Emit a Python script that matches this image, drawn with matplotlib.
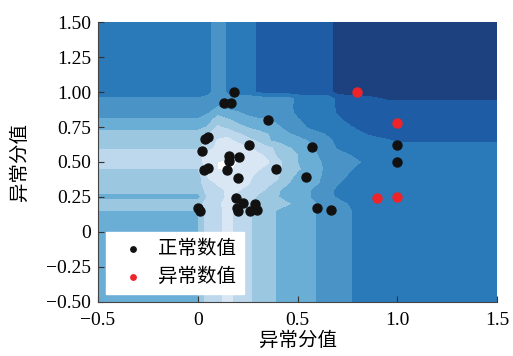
import matplotlib
matplotlib.use("Agg")
import matplotlib.pyplot as plt
import numpy as np

plt.rcParams['font.family'] = ['Liberation Serif', 'Noto Sans CJK SC']
plt.rcParams['axes.unicode_minus'] = True

# anomaly score field (level 0 = darkest, 7 = lightest)
# grid covers the data box, outside it the values are held constant
grid_x = [0, .05, .1, .15, .2, .25, .3, .35, .4, .45, .5, .55, .6, .65, .7, .75, .8, .85, .9, .95, 1.0]
grid_y = [1.0, .95, .9, .85, .8, .75, .7, .65, .6, .55, .5, .45, .4, .35, .3, .25, .2, .15]
score = [
    [2, 2, 3.4, 2.3, 2, 2, 1.4, 1, 1, 1, 1, 1, 1, 1, 0, 0, 0, 0, 0, 0, 0],
    [2.6, 3, 3.4, 3, 3, 3, 3, 3, 3, 3, 2.2, 2, 2, 2, 1.3, 1.1, 1, .8, .6, .4, .4],
    [3, 3.2, 3.4, 3.2, 3, 3, 3, 3, 3, 2.8, 2.2, 2, 2, 2, 1.3, 1, 1, 1, 1, 1, 1],
    [3, 3.4, 4.2, 3.8, 3.6, 3.3, 3.2, 3.1, 3, 2.8, 2.3, 2, 2, 2, 1.4, 1, 1, 1, 1, 1, 1],
    [3.6, 4, 5, 4.6, 4.2, 3.8, 3.6, 3.6, 3.3, 3, 2.6, 2.2, 2, 2, 1.7, 1.3, 1, 1, 1, 1, 1],
    [4, 4.6, 5.6, 5.2, 4.8, 4.4, 4.2, 4, 3.6, 3.2, 3, 2.4, 2.1, 2, 1.9, 1.7, 1.3, 1, 1, 1, 1],
    [5, 5.4, 6.2, 6.2, 5.6, 5.2, 4.8, 4.5, 4.1, 3.6, 3.3, 3, 2.7, 2.4, 2, 2, 1.8, 1.45, 1.3, 1.2, 1.1],
    [5, 5.6, 6.6, 6.8, 6.3, 5.8, 5.4, 4.6, 4.3, 4, 3.8, 3.5, 3.1, 2.7, 2.3, 2, 2, 1.8, 1.7, 1.6, 1.4],
    [5.4, 6, 6.8, 7, 7, 6.6, 6, 5.7, 5.3, 4.6, 4.2, 3.8, 3.3, 3, 2.4, 2, 2, 2, 2, 2, 2],
    [6, 7, 7.2, 7.4, 7.4, 7.2, 6.8, 6.2, 5.3, 4.9, 4.5, 4, 3.5, 3, 2.8, 2.6, 2.2, 2, 2, 2, 2],
    [6, 7, 7.5, 7.6, 7.5, 7.3, 7, 6.6, 5.7, 5.2, 4.5, 4.1, 3.6, 3.3, 3, 2.8, 2.6, 2.3, 2, 2, 2],
    [5.45, 7, 7.5, 7.6, 7.4, 7.1, 6.6, 6.2, 5.7, 5.2, 4.6, 4.2, 3.7, 3.3, 3, 2.7, 2.3, 2, 2, 2, 2],
    [5, 6.6, 7.3, 7.4, 7.2, 6.8, 6.2, 5.9, 5.6, 4.8, 4.3, 3.9, 3.6, 3.3, 2.9, 2.45, 2.2, 2, 2, 2, 2],
    [5, 6.2, 6.6, 7, 7, 6.6, 6, 5.6, 5.4, 4.55, 4.1, 3.8, 3.55, 3.2, 2.6, 2.2, 2, 2, 2, 2, 2],
    [5, 5.8, 6.3, 6.6, 6.6, 6.2, 5.7, 5.4, 4.6, 4.2, 3.9, 3.6, 3.2, 2.8, 2.3, 2, 2, 2, 2, 2, 2],
    [4, 5.6, 6.2, 6.6, 6.2, 5.8, 5.4, 4.9, 4.55, 4, 3.8, 3.6, 3.2, 2.7, 2.4, 2.2, 2, 2, 2, 2, 2],
    [5.2, 5.8, 6.2, 7, 6.3, 5.8, 5.2, 4.8, 4.8, 4.6, 4.2, 3.9, 3.45, 3, 2.8, 2.5, 2.2, 2, 2, 2, 2],
    [4.4, 6, 6, 7, 6, 5.8, 5, 5, 4.4, 4, 4, 4, 3.4, 3, 3, 2.8, 2, 2, 2, 2, 2],
]
level_colors = ['#1d417e', '#1f5ca6', '#2a79b9', '#4a93c7', '#6aaed6', '#9bc7e0', '#bdd7ec', '#d9e7f5']

normal_x = [0.18, 0.13, 0.165, 0.35, 0.035, 0.05, 0.257, 0.02, 0.155, 0.207, 0.158, 0.03, 0.053, 0.145, 0.39,
            0.203, 0.54, 0.57, 0.19, 0.228, 0.287, 0.195, 0.203, 0.262, 0.295, 0.0, 0.011, 0.6, 0.67, 1.0, 1.0]
normal_y = [1.0, 0.92, 0.92, 0.80, 0.665, 0.68, 0.62, 0.58, 0.54, 0.535, 0.51, 0.443, 0.46, 0.443, 0.448,
            0.383, 0.395, 0.61, 0.245, 0.205, 0.198, 0.17, 0.15, 0.15, 0.157, 0.17, 0.15, 0.17, 0.16, 0.62, 0.50]
anomaly_x = [0.8, 1.0, 0.9, 1.0]
anomaly_y = [1.0, 0.78, 0.24, 0.25]

xs = np.concatenate([[-0.5], grid_x, [1.5]])
ys = np.concatenate([[1.5], grid_y, [-0.5]])
zz = np.pad(np.array(score, dtype=float), 1, mode='edge')

fig = plt.figure(figsize=(5.13, 3.56), dpi=100)
ax = fig.add_axes([0.191, 0.152, 0.778, 0.786])
ax.contourf(xs, ys, zz, levels=np.arange(-0.5, 8, 1), colors=level_colors)
ax.scatter(normal_x, normal_y, s=42, c='#111111', label='正常数值', zorder=3)
ax.scatter(anomaly_x, anomaly_y, s=42, c='#ee2429', label='异常数值', zorder=3)

ax.set_xlim(-0.5, 1.5)
ax.set_ylim(-0.5, 1.5)
ax.set_xticks([-0.5, 0, 0.5, 1.0, 1.5])
ax.set_xticklabels(['−0.5', '0', '0.5', '1.0', '1.5'])
ax.set_yticks(np.arange(-0.5, 1.51, 0.25))
ax.set_yticklabels(['−0.50', '−0.25', '0', '0.25', '0.50', '0.75', '1.00', '1.25', '1.50'])
ax.tick_params(direction='in', labelsize=14, length=4, color='#333333')
ax.tick_params(axis='x', pad=7)
ax.tick_params(axis='y', pad=5)
ax.spines['top'].set_visible(False)
ax.spines['right'].set_visible(False)
ax.spines['left'].set_color('#444444')
ax.spines['bottom'].set_color('#444444')
ax.set_xlabel('异常分值', fontsize=14, labelpad=2)
ax.set_ylabel('异常分值', fontsize=14, labelpad=12)

leg = ax.legend(loc='lower left', fontsize=14, markerscale=0.6, fancybox=False, framealpha=1,
                edgecolor='white', borderaxespad=0.4, handletextpad=0.3, borderpad=0.4)

fig.savefig('out.png', dpi=100)
